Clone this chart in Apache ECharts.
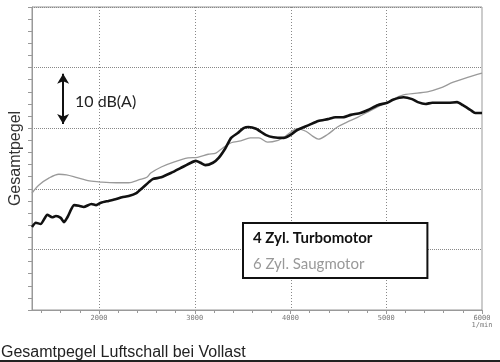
<!DOCTYPE html>
<html>
<head>
<meta charset="utf-8">
<script src="https://cdn.jsdelivr.net/npm/echarts@6/dist/echarts.min.js"></script>
<style>
  html, body { margin: 0; padding: 0; background: #fff; }
  #chart { width: 500px; height: 362px; }
</style>
</head>
<body>
<div id="chart"></div>
<script>
// Engine speed (1/min) and overall level (dB(A), relative) for each curve
const rpmTurbo = [1300,1340,1390,1460,1510,1550,1600,1635,1670,1740,1790,1840,1920,1970,2020,2100,2180,2240,2310,2390,2450,2520,2560,2650,2750,2850,2960,3010,3060,3110,3190,3250,3320,3380,3450,3510,3560,3640,3740,3820,3930,4000,4070,4190,4290,4390,4470,4550,4630,4730,4810,4910,5010,5070,5180,5270,5330,5410,5480,5560,5650,5740,5800,5880,5930,6000];
const levelTurbo = [13.7,14.4,14.2,15.7,15.3,15.5,15.2,14.5,15.3,17.3,17.2,17.0,17.5,17.3,17.7,18.0,18.3,18.6,18.8,19.3,20.1,21.1,21.6,21.9,22.6,23.4,24.3,24.6,24.3,23.9,24.3,25.1,26.7,28.4,29.2,30.0,30.2,29.9,28.9,28.5,28.4,28.9,29.7,30.5,31.2,31.5,31.8,31.8,32.2,32.5,33.0,33.8,34.2,34.7,35.1,34.8,34.3,34.0,34.2,34.2,34.2,34.3,33.8,33.0,32.5,32.5];
const rpmSauger = [1300,1370,1480,1580,1660,1760,1900,2030,2180,2310,2420,2500,2540,2650,2780,2930,3030,3140,3220,3290,3380,3480,3580,3670,3760,3870,3930,4070,4160,4230,4290,4390,4490,4590,4700,4810,5010,5180,5430,5560,5700,5850,6000];
const levelSauger = [19.3,20.6,21.8,22.4,22.3,21.9,21.3,21.1,21.0,21.0,21.5,21.9,22.6,23.6,24.4,25.1,25.2,25.7,25.9,26.7,27.6,27.9,28.4,28.4,27.7,28.0,28.5,29.9,29.5,28.7,28.2,29.0,30.2,31.0,31.8,32.7,34.3,35.5,36.0,36.6,37.6,38.4,39.1];
const seriesNames = ['4 Zyl. Turbomotor', '6 Zyl. Saugmotor'];
const xMajorTicks = [2000, 3000, 4000, 5000, 6000];
const xMinorTicks = [1400,1600,1800,2000,2200,2400,2600,2800,3000,3200,3400,3600,3800,4000,4200,4400,4600,4800,5000,5200,5400,5600,5800,6000];
const xRange = [1300, 6000];
const yRange = [0, 50];
const xUnit = '1/min';
const yAxisName = 'Gesamtpegel';
const chartTitle = 'Gesamtpegel Luftschall bei Vollast';
const scaleLabel = '10 dB(A)';
const scaleArrowRpm = 1625;
const scaleArrowLevels = [39.0, 30.7];

const zip = (xs, ys) => xs.map((x, i) => [x, ys[i]]);

const chart = echarts.init(document.getElementById('chart'), null, { renderer: 'canvas' });
chart.setOption({
  animation: false,
  backgroundColor: '#fff',
  title: {
    text: chartTitle,
    left: -4, top: 340,
    textStyle: { fontFamily: 'Liberation Sans', fontSize: 16, fontWeight: 'normal', color: '#222' }
  },
  grid: { left: 31, right: 18, top: 7, bottom: 52, show: true, borderColor: '#999', borderWidth: 1, backgroundColor: 'transparent' },
  legend: {
    orient: 'vertical',
    left: 243, top: 223,
    padding: [8, 55, 6, 5],
    itemGap: 11,
    itemWidth: 0, itemHeight: 14,
    icon: 'none',
    borderColor: '#111', borderWidth: 2,
    backgroundColor: '#fff',
    selectedMode: false,
    data: [
      { name: seriesNames[0], textStyle: { fontFamily: 'Lato', fontSize: 15, fontWeight: 'bold', color: '#111' } },
      { name: seriesNames[1], textStyle: { fontFamily: 'Lato', fontSize: 15, fontWeight: 'normal', color: '#999' } }
    ]
  },
  xAxis: [{
    type: 'value', min: xRange[0], max: xRange[1],
    axisLine: { lineStyle: { color: '#999' } },
    axisTick: { show: true, customValues: xMajorTicks, length: 4, lineStyle: { color: '#999' } },
    axisLabel: {
      customValues: xMajorTicks, margin: 5,
      fontFamily: 'DejaVu Sans Mono', fontSize: 7, color: '#777', lineHeight: 7,
      formatter: v => v === 6000 ? v + '\n' + xUnit : String(v)
    },
    splitLine: { show: false }
  }, {
    type: 'value', min: xRange[0], max: xRange[1], position: 'bottom',
    axisLine: { show: false },
    axisTick: { show: true, customValues: xMinorTicks, length: 3, lineStyle: { color: '#999' } },
    axisLabel: { show: false },
    splitLine: { show: false }
  }],
  yAxis: {
    type: 'value', min: yRange[0], max: yRange[1], interval: 10,
    name: yAxisName, nameLocation: 'middle', nameGap: 8,
    nameTextStyle: { fontFamily: 'Liberation Sans', fontSize: 16, color: '#333' },
    axisLine: { show: true, lineStyle: { color: '#999' } },
    axisTick: { show: true, length: 4, lineStyle: { color: '#999' } },
    minorTick: { show: true, splitNumber: 5, length: 4, lineStyle: { color: '#999' } },
    axisLabel: { show: false },
    splitLine: { show: true, lineStyle: { color: '#888', type: 'dotted', width: 1 } }
  },
  graphic: [
    { type: 'text', left: 75, top: 94, style: { text: scaleLabel, font: '16px Lato', fill: '#222' } },
    { type: 'rect', left: 0, top: 360, shape: { width: 500, height: 2 }, style: { fill: '#222' } }
  ],
  series: [{
    // vertical dotted grid lines at the major rpm ticks, placed through the x axis scale
    name: 'xGrid', type: 'custom', xAxisIndex: 0, yAxisIndex: 0,
    silent: true, z: 1, clip: false,
    data: xMajorTicks.slice(0, 4).map(v => [v, yRange[0]]),
    renderItem: (params, api) => {
      const top = api.coord([api.value(0), yRange[1]]);
      const bottom = api.coord([api.value(0), yRange[0]]);
      const x = Math.round(top[0]) + 0.5;
      return {
        type: 'line',
        shape: { x1: x, y1: top[1], x2: x, y2: bottom[1] },
        style: { stroke: '#888', lineWidth: 1, lineDash: [1, 2] }
      };
    }
  }, {
    name: seriesNames[1], type: 'line', xAxisIndex: 0, yAxisIndex: 0,
    data: zip(rpmSauger, levelSauger),
    showSymbol: false, smooth: 0.3,
    lineStyle: { color: '#9a9a9a', width: 1.3 },
    itemStyle: { color: '#9a9a9a' },
    z: 3
  }, {
    name: seriesNames[0], type: 'line', xAxisIndex: 0, yAxisIndex: 0,
    data: zip(rpmTurbo, levelTurbo),
    showSymbol: false, smooth: 0.2,
    lineStyle: { color: '#111', width: 2.6 },
    itemStyle: { color: '#111' },
    z: 4,
    markLine: {
      silent: true, symbol: ['arrow', 'arrow'], symbolSize: [9, 10],
      label: { show: false },
      lineStyle: { color: '#111', width: 2, type: 'solid' },
      data: [[{ coord: [scaleArrowRpm, scaleArrowLevels[0]] }, { coord: [scaleArrowRpm, scaleArrowLevels[1]] }]]
    }
  }]
});
</script>
</body>
</html>
